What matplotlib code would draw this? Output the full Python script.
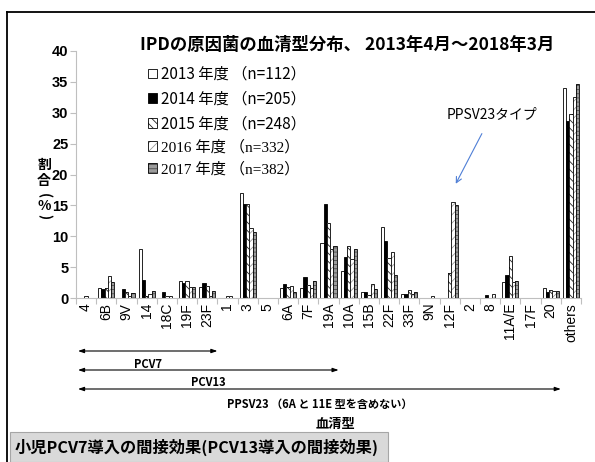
import matplotlib
matplotlib.use("Agg")
import matplotlib.pyplot as plt
import numpy as np
from matplotlib.patches import Patch, Rectangle
from matplotlib.lines import Line2D
from matplotlib.legend_handler import HandlerTuple
import matplotlib.transforms as mtransforms

plt.rcParams['font.family'] = ['Noto Sans CJK JP', 'DejaVu Sans']
plt.rcParams['hatch.linewidth'] = 0.6

serotypes = ["4", "6B", "9V", "14", "18C", "19F", "23F", "1", "3", "5", "6A", "7F",
             "19A", "10A", "15B", "22F", "33F", "9N", "12F", "2", "8", "11A/E",
             "17F", "20", "others"]

fy2013 = [0, 1.7, 0, 8.0, 0, 2.7, 1.8, 0, 17.0, 0, 1.6, 1.6,
          8.9, 4.4, 0.9, 11.5, 0.7, 0, 0, 0, 0, 2.6, 0, 1.7, 34.0]
fy2014 = [0, 1.5, 1.4, 2.9, 1.0, 2.4, 2.4, 0, 15.2, 0, 2.3, 3.4,
          15.3, 6.7, 0.9, 9.3, 0.7, 0, 0, 0, 0.5, 3.8, 0, 1.0, 28.7]
fy2015 = [0.4, 1.6, 0.9, 0.4, 0.4, 2.7, 2.0, 0.4, 15.3, 0, 1.8, 2.1,
          12.1, 8.4, 0.5, 6.4, 1.3, 0, 4.0, 0, 0, 6.8, 0, 1.3, 29.8]
fy2016 = [0, 3.5, 0.3, 0.7, 0.3, 1.8, 0.3, 0.3, 11.4, 0, 1.9, 1.6,
          8.0, 6.3, 2.3, 7.5, 0.6, 0.3, 15.6, 0, 0.6, 2.6, 0, 1.2, 32.6]
fy2017 = [0, 2.6, 0.8, 1.1, 0, 1.8, 1.1, 0, 10.7, 0, 0.9, 2.8,
          8.5, 7.9, 1.4, 3.8, 1.0, 0, 15.1, 0, 0, 2.8, 0, 1.2, 34.7]

series_labels = ["2013 年度 （n=112）", "2014 年度 （n=205）", "2015 年度 （n=248）",
                 "2016 年度 （n=332）", "2017 年度 （n=382）"]
series_values = [fy2013, fy2014, fy2015, fy2016, fy2017]

# fill colour, hatch pattern, hatch colour
styles = [
    ("white", None, None),
    ("black", None, None),
    ("white", "\\\\\\\\", "#222222"),
    ("white", "////", "#9a9a9a"),
    ("#9c9c9c", "----", "#4a4a4a"),
]

W, H = 595, 462
fig = plt.figure(figsize=(W / 100, H / 100), dpi=100)

def fx(px):
    return px / W

def fy(py):
    return 1 - py / H

# outer frame
fig.add_artist(Line2D([fx(7), fx(595)], [fy(12), fy(12)], color="black", lw=1.3))
fig.add_artist(Line2D([fx(7), fx(7)], [fy(12), fy(462)], color="black", lw=1.3))

ax = fig.add_axes([fx(76), fy(298), fx(581) - fx(76), fy(51) - fy(298)])

x = np.arange(len(serotypes))
bw = 0.16
handles = []
for i, (vals, (fc, hatch, hc)) in enumerate(zip(series_values, styles)):
    pos = x + (i - 2) * bw
    if hatch:
        ax.bar(pos, vals, bw, color=fc, hatch=hatch, edgecolor=hc, linewidth=0)
        ax.bar(pos, vals, bw, fill=False, edgecolor="black", linewidth=0.6)
        h = (Patch(facecolor=fc, hatch=hatch, edgecolor=hc, linewidth=0),
             Patch(fill=False, edgecolor="black", linewidth=0.6))
    else:
        ax.bar(pos, vals, bw, color=fc, edgecolor="black", linewidth=0.6)
        h = Patch(facecolor=fc, edgecolor="black", linewidth=0.6)
    handles.append(h)

ax.set_xlim(-0.5, len(serotypes) - 0.5)
ax.set_ylim(0, 40)
ax.set_yticks(np.arange(0, 41, 5))
ax.set_yticklabels([str(v) for v in range(0, 41, 5)],
                   fontfamily="Liberation Sans", fontweight="bold", fontsize=10.5)
ax.set_xticks(x)
ax.set_xticklabels(serotypes, rotation=90, fontfamily="Liberation Sans", fontsize=10)
ax.set_xticks(np.arange(-0.5, len(serotypes), 1), minor=True)
ax.tick_params(axis="x", which="major", length=0, pad=3.5)
ax.tick_params(axis="x", which="minor", length=4, color="#bfbfbf", width=0.8)
ax.tick_params(axis="y", length=4, color="#bfbfbf", width=0.8, pad=1.5)
for s in ("top", "right"):
    ax.spines[s].set_visible(False)
for s in ("left", "bottom"):
    ax.spines[s].set_color("#bfbfbf")
    ax.spines[s].set_linewidth(0.8)

leg = ax.legend(handles, series_labels, loc="upper left",
                bbox_to_anchor=(fx(148), fy(66)), bbox_transform=fig.transFigure,
                frameon=False, fontsize=11, handlelength=0.6, handleheight=0.6,
                handletextpad=0.25, labelspacing=0.5, borderpad=0, borderaxespad=0,
                handler_map={tuple: HandlerTuple(ndivide=1, pad=0)})
for t in leg.get_texts()[3:]:
    t.set_fontfamily(["Liberation Serif", "Noto Sans CJK JP"])

fig.text(fx(347), fy(45), "IPDの原因菌の血清型分布、 2013年4月～2018年3月",
         ha="center", va="center", fontsize=12.5, fontweight="bold")

# vertical axis caption, stacked character by character
for ch, py, rot in [("割", 165, 0), ("合", 181, 0), ("(", 196, 270),
                    ("%", 206, 0), (")", 217, 270)]:
    fig.text(fx(44), fy(py), ch, ha="center", va="center", rotation=rot,
             fontsize=10, fontweight="bold")

ax.annotate("PPSV23タイプ", xy=(18.3, 18.5), xytext=(20.1, 29.8),
            ha="center", va="center", fontsize=10,
            arrowprops=dict(arrowstyle="->,head_length=0.4,head_width=0.2",
                            color="#4f7fd6", lw=0.8, shrinkA=8, shrinkB=0))

# vaccine coverage ranges below the axis
trans = mtransforms.blended_transform_factory(ax.transData, fig.transFigure)
ranges = [("PCV7", 6.5, 351, 364), ("PCV13", 12.5, 370, 382),
          ("PPSV23 （6A と 11E 型を含めない）", 23.5, 389, 404)]
for label, end, ya, yt in ranges:
    ax.annotate("", xy=(-0.4, fy(ya)), xytext=(end, fy(ya)),
                xycoords=trans, textcoords=trans, annotation_clip=False,
                arrowprops=dict(arrowstyle="<|-|>,head_length=0.35,head_width=0.12",
                                color="black", lw=0.8, shrinkA=0, shrinkB=0))
    xm = (-0.4 + end) / 2
    ax.text(xm, fy(yt), label, transform=trans, ha="center", va="center",
            fontsize=8, fontweight="bold")

fig.text(fx(335), fy(424), "血清型", ha="center", va="center",
         fontsize=9.5, fontweight="bold")

fig.add_artist(Rectangle((fx(10), 0), fx(388) - fx(10), fy(432), transform=fig.transFigure,
                         facecolor="#d9d9d9", edgecolor="#a6a6a6", linewidth=0.8))
fig.text(fx(15), fy(447), "小児PCV7導入の間接効果(PCV13導入の間接効果)",
         ha="left", va="center", fontsize=11.7, fontweight="bold")

fig.savefig("out.png", dpi=100)
